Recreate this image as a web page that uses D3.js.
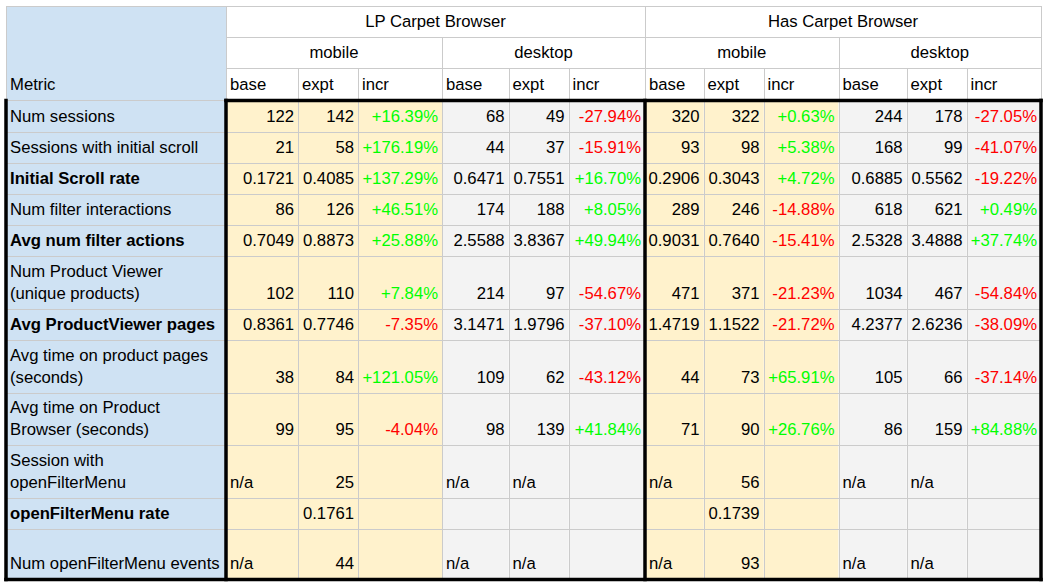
<!DOCTYPE html>
<html><head><meta charset="utf-8">
<script src="https://cdn.jsdelivr.net/npm/d3@7"></script>
<style>
body{margin:0;background:#fff}
svg{display:block}
text{font-family:"Liberation Sans",Arial,sans-serif;font-size:16.7px;fill:#000}
</style>
</head><body>
<svg id="chart" width="1048" height="586"></svg>
<script>
// ---------- DATA ----------
const metrics = [
  "Num sessions",
  "Sessions with initial scroll",
  "Initial Scroll rate",
  "Num filter interactions",
  "Avg num filter actions",
  "Num Product Viewer\n(unique products)",
  "Avg ProductViewer pages",
  "Avg time on product pages\n(seconds)",
  "Avg time on Product\nBrowser (seconds)",
  "Session with\nopenFilterMenu",
  "openFilterMenu rate",
  "Num openFilterMenu events"
];
const boldMetrics = ["Initial Scroll rate","Avg num filter actions","Avg ProductViewer pages","openFilterMenu rate"];
const groups = ["LP Carpet Browser","Has Carpet Browser"];
const devices = ["mobile","desktop"];
const measures = ["base","expt","incr"];
const headerTitle = "Metric";

const lpMobileBase = ["122","21","0.1721","86","0.7049","102","0.8361","38","99","n/a","","n/a"];
const lpMobileExpt = ["142","58","0.4085","126","0.8873","110","0.7746","84","95","25","0.1761","44"];
const lpMobileIncr = ["+16.39%","+176.19%","+137.29%","+46.51%","+25.88%","+7.84%","-7.35%","+121.05%","-4.04%","","",""];
const lpDesktopBase = ["68","44","0.6471","174","2.5588","214","3.1471","109","98","n/a","","n/a"];
const lpDesktopExpt = ["49","37","0.7551","188","3.8367","97","1.9796","62","139","n/a","","n/a"];
const lpDesktopIncr = ["-27.94%","-15.91%","+16.70%","+8.05%","+49.94%","-54.67%","-37.10%","-43.12%","+41.84%","","",""];
const hasMobileBase = ["320","93","0.2906","289","0.9031","471","1.4719","44","71","n/a","","n/a"];
const hasMobileExpt = ["322","98","0.3043","246","0.7640","371","1.1522","73","90","56","0.1739","93"];
const hasMobileIncr = ["+0.63%","+5.38%","+4.72%","-14.88%","-15.41%","-21.23%","-21.72%","+65.91%","+26.76%","","",""];
const hasDesktopBase = ["244","168","0.6885","618","2.5328","1034","4.2377","105","86","n/a","","n/a"];
const hasDesktopExpt = ["178","99","0.5562","621","3.4888","467","2.6236","66","159","n/a","","n/a"];
const hasDesktopIncr = ["-27.05%","-41.07%","-19.22%","+0.49%","+37.74%","-54.84%","-38.09%","-37.14%","+84.88%","","",""];

const valueColumns = [
  lpMobileBase, lpMobileExpt, lpMobileIncr,
  lpDesktopBase, lpDesktopExpt, lpDesktopIncr,
  hasMobileBase, hasMobileExpt, hasMobileIncr,
  hasDesktopBase, hasDesktopExpt, hasDesktopIncr
];

// ---------- LAYOUT ----------
const x0 = 6, y0 = 6;
const colWidths = [220, 72, 60, 84, 66.5, 60, 76.5, 58.5, 60, 75, 68, 60, 74.5];
const headerHeights = [31, 31, 32];
const rowHeights = [32, 31, 31, 31, 30.5, 53, 31, 53, 52.5, 53, 31, 50];
const colEdges = [x0, ...Array.from(d3.cumsum(colWidths), v => x0 + v)];
const rowEdges = [y0, ...Array.from(d3.cumsum([...headerHeights, ...rowHeights]), v => y0 + v)];
const nHead = headerHeights.length;
const gridColor = "#cbcbcb";
const fills = { metric: "#cfe2f3", mobile: "#fff2cc", desktop: "#f3f3f3" };
const colors = { pos: "#00ff00", neg: "#ff0000", txt: "#000" };
const pad = 4, baseOff = 10, lineH = 22;

const svg = d3.select("#chart");
const gFill = svg.append("g"), gGrid = svg.append("g"), gText = svg.append("g"), gThick = svg.append("g");

// column meta
const colMeta = valueColumns.map((vals, i) => ({
  i: i + 1,
  group: groups[Math.floor(i / 6)],
  device: devices[Math.floor(i / 3) % 2],
  measure: measures[i % 3],
  vals
}));

// fills
gFill.append("rect").attr("x", colEdges[0]).attr("y", rowEdges[0])
  .attr("width", colEdges[1] - colEdges[0]).attr("height", rowEdges[rowEdges.length - 1] - rowEdges[0])
  .attr("fill", fills.metric);
colMeta.forEach(c => {
  gFill.append("rect").attr("x", colEdges[c.i]).attr("y", rowEdges[nHead])
    .attr("width", colEdges[c.i + 1] - colEdges[c.i])
    .attr("height", rowEdges[rowEdges.length - 1] - rowEdges[nHead])
    .attr("fill", fills[c.device]);
});

function hline(x1, x2, y) {
  gGrid.append("line").attr("x1", x1).attr("x2", x2).attr("y1", Math.round(y) + 0.5).attr("y2", Math.round(y) + 0.5)
    .attr("stroke", gridColor).attr("stroke-width", 1);
}
function vline(x, y1, y2) {
  gGrid.append("line").attr("x1", Math.round(x) + 0.5).attr("x2", Math.round(x) + 0.5).attr("y1", y1).attr("y2", y2)
    .attr("stroke", gridColor).attr("stroke-width", 1);
}
const xR = colEdges[colEdges.length - 1], yB = rowEdges[rowEdges.length - 1];
// header grid
hline(x0, xR, rowEdges[0]);
hline(colEdges[1], xR, rowEdges[1]);
hline(colEdges[1], xR, rowEdges[2]);
vline(x0, rowEdges[0], rowEdges[nHead]);
vline(colEdges[1], rowEdges[0], rowEdges[nHead]);
vline(colEdges[7], rowEdges[0], rowEdges[nHead]);
vline(xR, rowEdges[0], rowEdges[nHead]);
[4, 10].forEach(k => vline(colEdges[k], rowEdges[1], rowEdges[nHead]));
d3.range(2, 13).forEach(k => vline(colEdges[k], rowEdges[2], yB));
// data grid
d3.range(nHead, rowEdges.length).forEach(r => hline(x0, xR, rowEdges[r]));

// header text
function txt(x, y, s, anchor, opts = {}) {
  return gText.append("text").attr("x", x).attr("y", y).attr("text-anchor", anchor)
    .attr("font-weight", opts.bold ? "bold" : null).style("fill", opts.color || colors.txt).text(s);
}
txt(colEdges[0] + pad, rowEdges[nHead] - baseOff, headerTitle, "start");
groups.forEach((g, gi) => {
  const a = colEdges[1 + gi * 6], b = colEdges[7 + gi * 6];
  txt((a + b) / 2, rowEdges[1] - baseOff, g, "middle");
  devices.forEach((d, di) => {
    const c1 = colEdges[1 + gi * 6 + di * 3], c2 = colEdges[4 + gi * 6 + di * 3];
    txt((c1 + c2) / 2, rowEdges[2] - baseOff, d, "middle");
  });
});
colMeta.forEach(c => txt(colEdges[c.i] + pad, rowEdges[3] - baseOff, c.measure, "start"));

// data text
metrics.forEach((m, r) => {
  const bottom = rowEdges[nHead + r + 1];
  const lines = m.split("\n");
  const bold = boldMetrics.includes(m);
  lines.forEach((ln, li) => {
    txt(colEdges[0] + pad, bottom - baseOff - (lines.length - 1 - li) * lineH, ln, "start", { bold });
  });
  colMeta.forEach(c => {
    const v = c.vals[r];
    if (!v) return;
    const numeric = /^[+\-]?[\d.]+%?$/.test(v);
    const color = v.startsWith("+") ? colors.pos : v.startsWith("-") ? colors.neg : colors.txt;
    if (numeric) txt(colEdges[c.i + 1] - pad, bottom - baseOff, v, "end", { color });
    else txt(colEdges[c.i] + pad, bottom - baseOff, v, "start", { color });
  });
});

// thick borders
function thick(x1, y1, x2, y2) {
  gThick.append("line").attr("x1", x1).attr("y1", y1).attr("x2", x2).attr("y2", y2)
    .attr("stroke", "#000").attr("stroke-width", 3.5).attr("stroke-linecap", "square");
}
const yTop = rowEdges[nHead] + 0.5;
thick(colEdges[1], yTop, xR, yTop);
thick(x0, yTop, x0, yB + 0.5);
thick(x0, yB + 0.5, xR, yB + 0.5);
[colEdges[1], colEdges[7], xR].forEach(x => thick(x, yTop, x, yB + 0.5));
</script>
</body></html>
